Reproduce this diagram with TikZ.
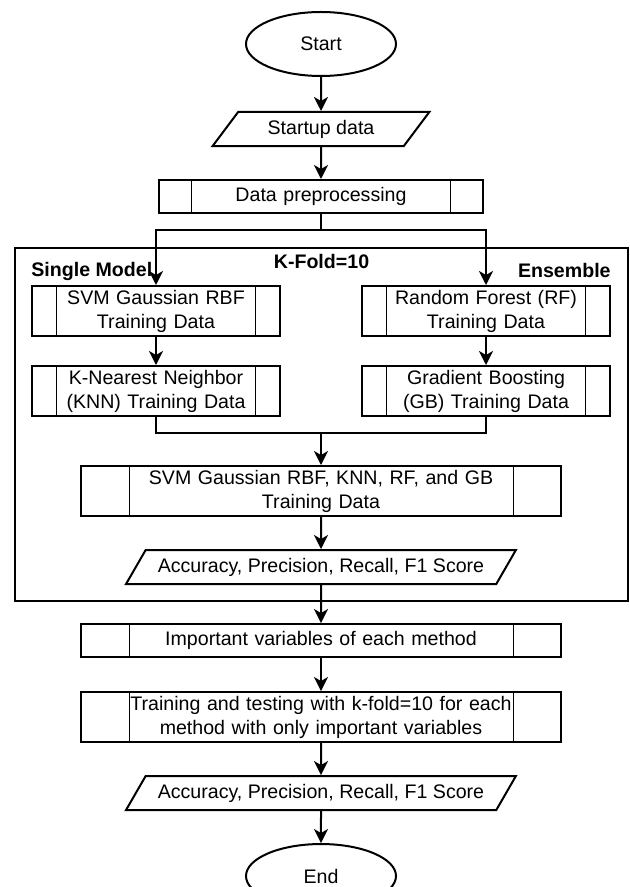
\documentclass[tikz,border=0pt]{standalone}
\usepackage{fontspec}
\setmainfont{Liberation Sans}
\usetikzlibrary{positioning, arrows.meta, shapes.geometric, calc, fit}

\tikzset{
	base/.style={draw, line width=1pt, align=center, inner sep=0pt, font=\fontsize{9.8pt}{12pt}\selectfont},
	term/.style={base, ellipse, minimum width=75pt, minimum height=32pt},
	io/.style 2 args={base, trapezium, trapezium left angle=#1, trapezium right angle=#2, trapezium stretches=true, minimum height=17pt},
	proc/.style 2 args={base, minimum width=#1, minimum height=#2, text width=#1,
		path picture={\draw[line width=0.5pt]
			($(path picture bounding box.north west)!0.1!(path picture bounding box.north east)$) -- ($(path picture bounding box.south west)!0.1!(path picture bounding box.south east)$)
			($(path picture bounding box.north west)!0.9!(path picture bounding box.north east)$) -- ($(path picture bounding box.south west)!0.9!(path picture bounding box.south east)$);}},
	frame/.style={draw, line width=1pt, inner sep=0pt},
	lbl/.style={inner sep=0pt, font=\bfseries\fontsize{9.8pt}{12pt}\selectfont},
	wire/.style={line width=1pt},
	flow/.style={wire, -{Stealth[length=7pt, width=7pt, inset=2pt]}}
}

\begin{document}
\begin{tikzpicture}
		\useasboundingbox (-160.5pt,22pt) rectangle (154pt,-421.5pt);
		\node[term] (start) at (0,0) {Start};
		\node[io={48}{132}, minimum width=108.5pt, below=17pt of start] (startup) {Startup data};
		\node[proc={161.5pt}{16.5pt}, below=16pt of startup] (prep) {Data preprocessing};
		\coordinate[below=8pt of prep] (split);
		\node[proc={124pt}{25pt}, below=35.5pt of prep, xshift=-82.5pt] (svm) {SVM Gaussian RBF\\Training Data};
		\node[proc={124pt}{25pt}, below=35.5pt of prep, xshift=82.5pt] (rf) {Random Forest (RF)\\Training Data};
		\node[proc={124pt}{25pt}, below=14pt of svm] (knn) {K-Nearest Neighbor\\(KNN) Training Data};
		\node[proc={124pt}{25pt}, below=14pt of rf] (gb) {Gradient Boosting\\(GB) Training Data};
		\coordinate (join) at ($(knn.south)!0.5!(gb.south)+(0,-8pt)$);
		\node[proc={240pt}{25pt}, below=16pt of join] (all) {SVM Gaussian RBF, KNN, RF, and GB\\Training Data};
		\node[io={45}{135}, minimum width=195pt, below=16pt of all] (score) {Accuracy, Precision, Recall, F1 Score};
		\node[frame, fit={($(svm.north west)+(-8pt,18.5pt)$) ($(rf.east |- score.south)+(8.5pt,-8pt)$)}] (fold) {};
		\node[lbl, anchor=base] (kfold) at ($(fold.north)+(0,-10.5pt)$) {K-Fold=10};
		\node[lbl, anchor=base west] (single) at ($(svm.north west)+(0,4.5pt)$) {Single Model};
		\node[lbl, anchor=base east] (ensemble) at ($(rf.north east)+(0,4pt)$) {Ensemble};
		\node[proc={240pt}{16.5pt}, below=19pt of score] (imp) {Important variables of each method};
		\node[proc={240pt}{25pt}, below=16.5pt of imp] (train) {Training and testing with k-fold=10 for each\\method with only important variables};
		\node[io={45}{135}, minimum width=195pt, below=16pt of train] (score2) {Accuracy, Precision, Recall, F1 Score};
		\node[term, below=16pt of score2] (end) {End};
		
		\draw[flow] (start) -- (startup);
		\draw[flow] (startup) -- (prep);
		\draw[wire] (prep) -- (split);
		\draw[flow] (split) -| (svm);
		\draw[flow] (split) -| (rf);
		\draw[flow] (svm) -- (knn);
		\draw[flow] (rf) -- (gb);
		\draw[wire] (knn) |- (join) -| (gb);
		\draw[flow] (join) -- (all);
		\draw[flow] (all) -- (score);
		\draw[flow] (score) -- (imp);
		\draw[flow] (imp) -- (train);
		\draw[flow] (train) -- (score2);
		\draw[flow] (score2) -- (end);
	\end{tikzpicture}
\end{document}
